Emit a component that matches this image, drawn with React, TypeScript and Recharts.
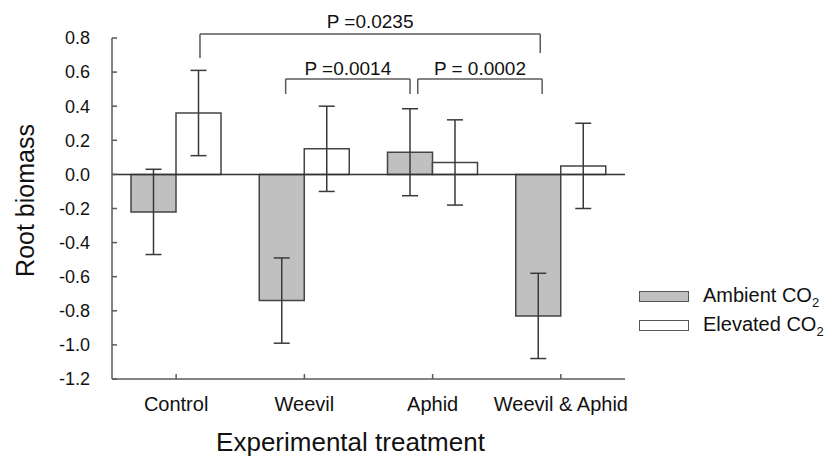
import { BarChart, Bar, XAxis, YAxis, ErrorBar, ReferenceLine, ReferenceDot, Label } from "recharts";

const categories = ["Control", "Weevil", "Aphid", "Weevil & Aphid"];
const ambient = [-0.22, -0.74, 0.13, -0.83];
const ambientSe = [0.25, 0.25, 0.255, 0.25];
const elevated = [0.36, 0.15, 0.07, 0.05];
const elevatedSe = [0.25, 0.25, 0.25, 0.25];
const yTicks = [-1.2, -1.0, -0.8, -0.6, -0.4, -0.2, 0.0, 0.2, 0.4, 0.6, 0.8];

// pairwise comparisons: which bars are joined, and the p value
const comparisons = [
  { p: "P =0.0235", from: [0, 1], to: [3, 0] },
  { p: "P =0.0014", from: [1, 0], to: [2, 0] },
  { p: "P = 0.0002", from: [2, 0], to: [3, 0] },
];
// bracket heights (in y units) for each comparison
const bracketTop = [0.823, 0.56, 0.56];
const bracketEnds = [[0.683, 0.712], [0.472, 0.472], [0.472, 0.472]];
const bracketNudge = [[0.01, 0.015], [0.03, 0], [0.06, 0.03]];
const labelY = [0.9, 0.62, 0.62];

const data = categories.map((name, i) => ({
  name,
  pos: i + 0.5,
  ambient: ambient[i],
  ambientSe: ambientSe[i],
  elevated: elevated[i],
  elevatedSe: elevatedSe[i],
}));

const FONT = '"Liberation Sans", Arial, sans-serif';
const AXIS = "#5a5a5a";
const INK = "#3a3a3a";

// centre of a bar in category units (bars are 45px in a 128px band)
const barCentre = (cat: number, series: number) => cat + 0.5 + (series === 0 ? -0.176 : 0.176);

const seriesInfo = [
  { name: "Ambient CO", fill: "#c0c0c0" },
  { name: "Elevated CO", fill: "#ffffff" },
];

function LegendBox() {
  return (
    <div style={{ position: "absolute", left: 639, top: 282, fontFamily: FONT, fontSize: 20, color: "#111" }}>
      {seriesInfo.map((s) => (
        <div key={s.name} style={{ display: "flex", alignItems: "center", height: 29 }}>
          <div style={{ width: 48, height: 9, background: s.fill, border: "1.5px solid #555", marginRight: 14 }} />
          <span>
            {s.name}
            <sub style={{ fontSize: 13 }}>2</sub>
          </span>
        </div>
      ))}
    </div>
  );
}

export default function App() {
  return (
    <div style={{ position: "absolute", left: 0, top: 0, width: 835, height: 460, background: "#fff" }}>
      <BarChart
        width={835}
        height={460}
        data={data}
        margin={{ top: 38, right: 210, bottom: 0, left: 0 }}
        barSize={45}
        barGap={0}
        style={{ fontFamily: FONT }}
      >
        <XAxis
          dataKey="name"
          height={81}
          stroke={AXIS}
          strokeWidth={1.5}
          tickSize={-5}
          tickMargin={23}
          tick={{ fill: "#111", fontSize: 20 }}
          interval={0}
        >
          <Label
            value="Experimental treatment"
            position="insideBottom"
            offset={9}
            dx={-18}
            style={{ fontSize: 26, fill: "#111" }}
          />
        </XAxis>
        <XAxis xAxisId="num" dataKey="pos" type="number" domain={[0, 4]} allowDataOverflow hide />
        <YAxis
          width={112}
          domain={[-1.2, 0.8]}
          ticks={yTicks}
          allowDataOverflow
          stroke={AXIS}
          strokeWidth={1.5}
          tickSize={-5}
          tickMargin={27}
          tick={{ fill: "#111", fontSize: 18 }}
          tickFormatter={(v: number) => v.toFixed(1)}
        >
          <Label
            content={({ viewBox }: any) => {
              const cx = 25;
              const cy = viewBox.y + viewBox.height / 2 - 8;
              return (
                <text
                  x={cx}
                  y={cy}
                  transform={`rotate(-90 ${cx} ${cy})`}
                  textAnchor="middle"
                  dominantBaseline="central"
                  fontSize={25}
                  fill="#111"
                >
                  Root biomass
                </text>
              );
            }}
          />
        </YAxis>
        <Bar dataKey="ambient" name="Ambient CO2" fill="#c0c0c0" stroke="#444" strokeWidth={1.5} isAnimationActive={false}>
          <ErrorBar dataKey="ambientSe" width={8} stroke={INK} strokeWidth={1.5} />
        </Bar>
        <Bar dataKey="elevated" name="Elevated CO2" fill="#ffffff" stroke="#444" strokeWidth={1.5} isAnimationActive={false}>
          <ErrorBar dataKey="elevatedSe" width={8} stroke={INK} strokeWidth={1.5} />
        </Bar>
        <ReferenceLine y={0} stroke="#333" strokeWidth={1.5} />
        {comparisons.flatMap((c, i) => {
          const x1 = barCentre(c.from[0], c.from[1]) + bracketNudge[i][0];
          const x2 = barCentre(c.to[0], c.to[1]) + bracketNudge[i][1];
          const top = bracketTop[i];
          const [e1, e2] = bracketEnds[i];
          const common = { xAxisId: "num", stroke: AXIS, strokeWidth: 1.5, ifOverflow: "visible" as const };
          return [
            <ReferenceLine key={`l${i}`} {...common} segment={[{ x: x1, y: e1 }, { x: x1, y: top }]} />,
            <ReferenceLine key={`t${i}`} {...common} segment={[{ x: x1, y: top }, { x: x2, y: top }]} />,
            <ReferenceLine key={`r${i}`} {...common} segment={[{ x: x2, y: top }, { x: x2, y: e2 }]} />,
            <ReferenceDot
              key={`p${i}`}
              xAxisId="num"
              x={(x1 + x2) / 2}
              y={labelY[i]}
              r={0}
              fill="none"
              stroke="none"
              ifOverflow="visible"
              label={{ value: c.p, position: "center", fontSize: 19, fill: "#111" }}
            />,
          ];
        })}
      </BarChart>
      <LegendBox />
    </div>
  );
}
